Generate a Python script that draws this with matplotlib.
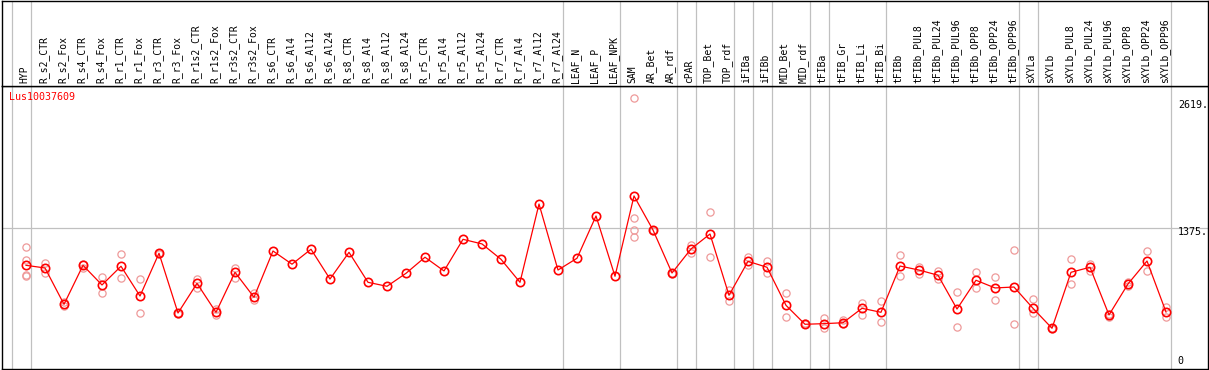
import matplotlib
matplotlib.use('Agg')
import matplotlib.pyplot as plt
from matplotlib.transforms import offset_copy

# ---------------- data ----------------
categories = ["HYP", "R_s2_CTR", "R_s2_Fox", "R_s4_CTR", "R_s4_Fox", "R_r1_CTR", "R_r1_Fox",
              "R_r3_CTR", "R_r3_Fox", "R_r1s2_CTR", "R_r1s2_Fox", "R_r3s2_CTR", "R_r3s2_Fox",
              "R_s6_CTR", "R_s6_Al4", "R_s6_Al12", "R_s6_Al24", "R_s8_CTR", "R_s8_Al4",
              "R_s8_Al12", "R_s8_Al24", "R_r5_CTR", "R_r5_Al4", "R_r5_Al12", "R_r5_Al24",
              "R_r7_CTR", "R_r7_Al4", "R_r7_Al12", "R_r7_Al24", "LEAF_N", "LEAF_P", "LEAF_NPK",
              "SAM", "AR_Bet", "AR_rdf", "cPAR", "TOP_Bet", "TOP_rdf", "iFIBa", "iFIBb",
              "MID_Bet", "MID_rdf", "tFIBa", "tFIB_Gr", "tFIB_Li", "tFIB_Bi", "tFIBb",
              "tFIBb_PUL8", "tFIBb_PUL24", "tFIBb_PUL96", "tFIBb_OPP8", "tFIBb_OPP24",
              "tFIBb_OPP96", "sXYLa", "sXYLb", "sXYLb_PUL8", "sXYLb_PUL24", "sXYLb_PUL96",
              "sXYLb_OPP8", "sXYLb_OPP24", "sXYLb_OPP96"]

means = [1013, 987, 632, 1013, 821, 1004, 713, 1131, 547, 837, 554, 945, 701,
         1153, 1024, 1170, 879, 1140, 847, 808, 935, 1092, 958, 1267, 1222,
         1072, 847, 1612, 967, 1082, 1495, 906,
         1691, 1358, 938, 1173, 1319, 720, 1052, 994,
         622, 437, 443, 452, 593, 554, 1006,
         967, 916, 586, 867, 792, 801,
         593, 398, 945, 994, 528, 831, 1055, 557]

replicates = [[1192, 1062, 923, 906], [1039, 941], [658, 616], [1026, 987], [896, 740],
              [1121, 886], [877, 544], [1131, 1125], [547, 540], [882, 789], [589, 525],
              [987, 886], [740, 674],
              [], [], [], [], [], [], [], [], [], [], [], [],
              [], [], [], [], [], [], [],
              [2645, 1476, 1358, 1287], [1358, 1350], [938, 930], [1215, 1134],
              [1531, 1094], [772, 667], [1092, 1019], [1055, 941],
              [740, 505], [437, 445], [498, 401], [479, 437], [642, 525], [664, 456],
              [1111, 906],
              [1000, 925], [961, 877], [750, 410], [945, 792], [902, 671], [1163, 440],
              [681, 550], [398, 390], [1072, 828], [1026, 961], [537, 511], [853, 811],
              [1153, 958], [606, 505]]

group_ends = [-1, 0, 28, 31, 34, 35, 37, 38, 39, 41, 42, 45, 52, 53, 60]
gene = "Lus10037609"
y_ticks = [0, 1375, 2619]
y_tick_labels = ["0", "1375.", "2619."]
grid_value = 1375

# ---------------- layout ----------------
W, H = 1209, 370
fig = plt.figure(figsize=(W / 100, H / 100), dpi=100)


def px_rect(x0, y_top, x1, y_bot):
    return [x0 / W, 1 - y_bot / H, (x1 - x0) / W, (y_bot - y_top) / H]


ax = fig.add_axes(px_rect(1.5, 86, 1207.5, 369))
hx = fig.add_axes(px_rect(1.5, 0.5, 1207.5, 86))

step = 19.0
xmin = -(26 - 1.5) / step
xmax = xmin + (1207.5 - 1.5) / step
for a in (ax, hx):
    a.set_xlim(xmin, xmax)
    a.set_xticks([])
    a.set_yticks([])
    for s in a.spines.values():
        s.set_color('black')
        s.set_linewidth(1.0)
ax.set_ylim(0, 2765)
hx.set_ylim(0, 1)

mono = 'DejaVu Sans Mono'
grey = '#c0c0c0'

# separators
for g in group_ends:
    for a in (ax, hx):
        a.axvline(g + 0.25, color=grey, lw=0.9, zorder=1)
ax.axhline(grid_value, color=grey, lw=0.9, zorder=1)

# header labels
for i, c in enumerate(categories):
    hx.text(i - 0.08, 0.035, c, rotation=90, ha='center', va='bottom',
            family=mono, fontsize=7, color='black')

# replicates
xs = list(range(len(categories)))
for i, reps in enumerate(replicates):
    if reps:
        ax.plot([i] * len(reps), reps, linestyle='none', marker='o', markersize=5.2,
                markerfacecolor='none', markeredgecolor='#ee9a9a', markeredgewidth=0.9,
                zorder=2)

# mean line
ax.plot(xs, means, color='#ff0000', lw=0.9, zorder=3)
ax.plot(xs, means, linestyle='none', marker='o', markersize=6,
        markerfacecolor='none', markeredgecolor='#ff0000', markeredgewidth=1.2, zorder=4)

# gene label
ax.text(-0.9, 0.978, gene, transform=ax.get_xaxis_transform(), ha='left', va='top',
        family=mono, fontsize=7.2, color='#ff0000')

# value labels at right
for v, lab in zip(y_ticks, y_tick_labels):
    if v == 0:
        tr = offset_copy(ax.transData, fig=fig, x=0, y=3, units='dots')
        ax.text(60.62, v, lab, transform=tr, ha='left', va='bottom', family=mono,
                fontsize=7.2, color='black')
    else:
        tr = offset_copy(ax.transData, fig=fig, x=0, y=1, units='dots')
        ax.text(60.62, v, lab, transform=tr, ha='left', va='top', family=mono,
                fontsize=7.2, color='black')

fig.savefig('out.png', dpi=100)
